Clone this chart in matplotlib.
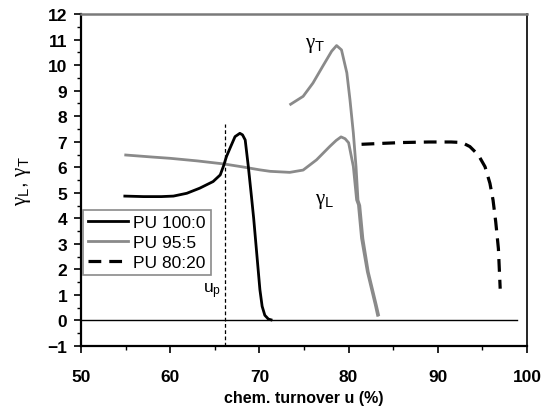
import matplotlib
matplotlib.use('Agg')
import matplotlib.pyplot as plt

plt.rcParams['font.family'] = ['Liberation Sans', 'DejaVu Sans']
plt.rcParams['mathtext.fontset'] = 'custom'
plt.rcParams['mathtext.rm'] = 'Liberation Serif'
plt.rcParams['mathtext.it'] = 'Liberation Serif:italic'
plt.rcParams['mathtext.sf'] = 'Liberation Sans'

# --- data ---
u_100 = [54.9, 57.0, 59.0, 60.35, 61.85, 63.3, 64.8, 65.6, 65.95, 66.3, 66.7,
         67.26, 67.8, 68.1, 68.4, 68.75, 69.1, 69.35, 69.6, 69.85, 70.05,
         70.3, 70.6, 71.0, 71.3]
g_100 = [4.87, 4.85, 4.85, 4.87, 4.98, 5.18, 5.44, 5.7, 6.03, 6.42, 6.75,
         7.2, 7.33, 7.27, 7.07, 6.03, 4.86, 4.0, 3.0, 2.0, 1.2,
         0.55, 0.2, 0.05, 0.02]

u_95_L = [55.0, 58.0, 60.0, 63.0, 66.0, 68.0, 70.0, 71.2, 73.4, 74.9, 76.4,
          77.9, 78.6, 79.15, 79.6, 80.0, 80.53, 80.9, 81.1, 81.45, 82.1,
          83.0, 83.25]
g_95_L = [6.48, 6.4, 6.35, 6.25, 6.13, 6.02, 5.9, 5.84, 5.8, 5.89, 6.29,
          6.82, 7.05, 7.19, 7.12, 6.96, 6.03, 4.72, 4.53, 3.22, 1.91,
          0.6, 0.2]

u_95_T = [73.5, 74.9, 76.0, 77.1, 78.1, 78.65, 79.2, 79.8, 80.15, 80.53,
          80.83, 81.05, 81.25, 81.6, 82.2, 83.1, 83.35]
g_95_T = [8.47, 8.78, 9.3, 9.96, 10.55, 10.77, 10.6, 9.7, 8.65, 7.34,
          6.02, 4.71, 4.5, 3.2, 1.9, 0.6, 0.22]

u_80 = [81.45, 84.0, 86.1, 89.0, 91.5, 92.7, 93.6, 94.55, 95.3, 95.85,
        96.2, 96.5, 96.8, 97.0]
g_80 = [6.9, 6.94, 6.97, 6.99, 6.99, 6.97, 6.81, 6.48, 6.02, 5.37,
        4.71, 3.86, 2.81, 1.24]

zero_u = [50.0, 98.9]
zero_g = [0.0, 0.0]
u_p = 66.1
u_p_top = 7.7

x_ticks = [50, 60, 70, 80, 90, 100]
y_ticks = list(range(-1, 13))

fig = plt.figure(figsize=(5.41, 4.10), dpi=100)
ax = fig.add_axes([0.150, 0.154, 0.824, 0.809])

gray = '#8a8a8a'
ax.plot(zero_u, zero_g, color='black', lw=1.0, zorder=1)
ax.plot([u_p, u_p], [-1, u_p_top], color='black', lw=0.9, dashes=(3, 2), zorder=1)

ax.plot(u_100, g_100, color='black', lw=2.0, label='PU 100:0', zorder=3)
ax.plot(u_95_L, g_95_L, color=gray, lw=2.0, label='PU 95:5', zorder=2)
ax.plot(u_95_T, g_95_T, color=gray, lw=2.0, zorder=2)
ax.plot(u_80, g_80, color='black', lw=2.3, dashes=(4, 2.5), label='PU 80:20', zorder=3)

ax.set_xlim(50, 100)
ax.set_ylim(-1, 12)
ax.set_xticks(x_ticks)
ax.set_yticks(y_ticks)
ax.set_xticks([55, 65, 75, 85, 95], minor=True)
ax.set_yticks([v + 0.5 for v in y_ticks[:-1]], minor=True)
ax.tick_params(which='major', direction='out', length=5, width=1.2, labelsize=12.5)
ax.tick_params(which='minor', direction='out', length=3, width=1.0)
ax.tick_params(axis='y', pad=5)
ax.tick_params(axis='x', pad=12)
for lab in ax.get_xticklabels() + ax.get_yticklabels():
    lab.set_fontweight('bold')

ax.spines['left'].set_linewidth(1.6)
ax.spines['bottom'].set_linewidth(1.6)
ax.spines['right'].set_linewidth(1.2)
ax.spines['top'].set_linewidth(1.8)
ax.spines['top'].set_color('#7a7a7a')

ax.set_xlabel('chem. turnover u (%)', fontsize=11.5, fontweight='bold', labelpad=4)
ax.set_ylabel(r'$\mathrm{\gamma}_\mathsf{L}$, $\mathrm{\gamma}_\mathsf{T}$',
              fontsize=15, labelpad=10)

ax.text(75.1, 10.7, r'$\mathrm{\gamma}_\mathsf{T}$', fontsize=15)
ax.text(76.2, 4.6, r'$\mathrm{\gamma}_\mathsf{L}$', fontsize=15)
ax.text(63.7, 1.1, r'u$_\mathsf{p}$', fontsize=12.5)

leg = ax.legend(loc='upper left', bbox_to_anchor=(0.004, 0.41), borderaxespad=0,
                fontsize=12.5, handlelength=2.3, handletextpad=0.3,
                labelspacing=0.28, borderpad=0.3, fancybox=False, framealpha=1)
leg.get_frame().set_edgecolor(gray)
leg.get_frame().set_linewidth(1.2)

fig.savefig('out.png', dpi=100)
